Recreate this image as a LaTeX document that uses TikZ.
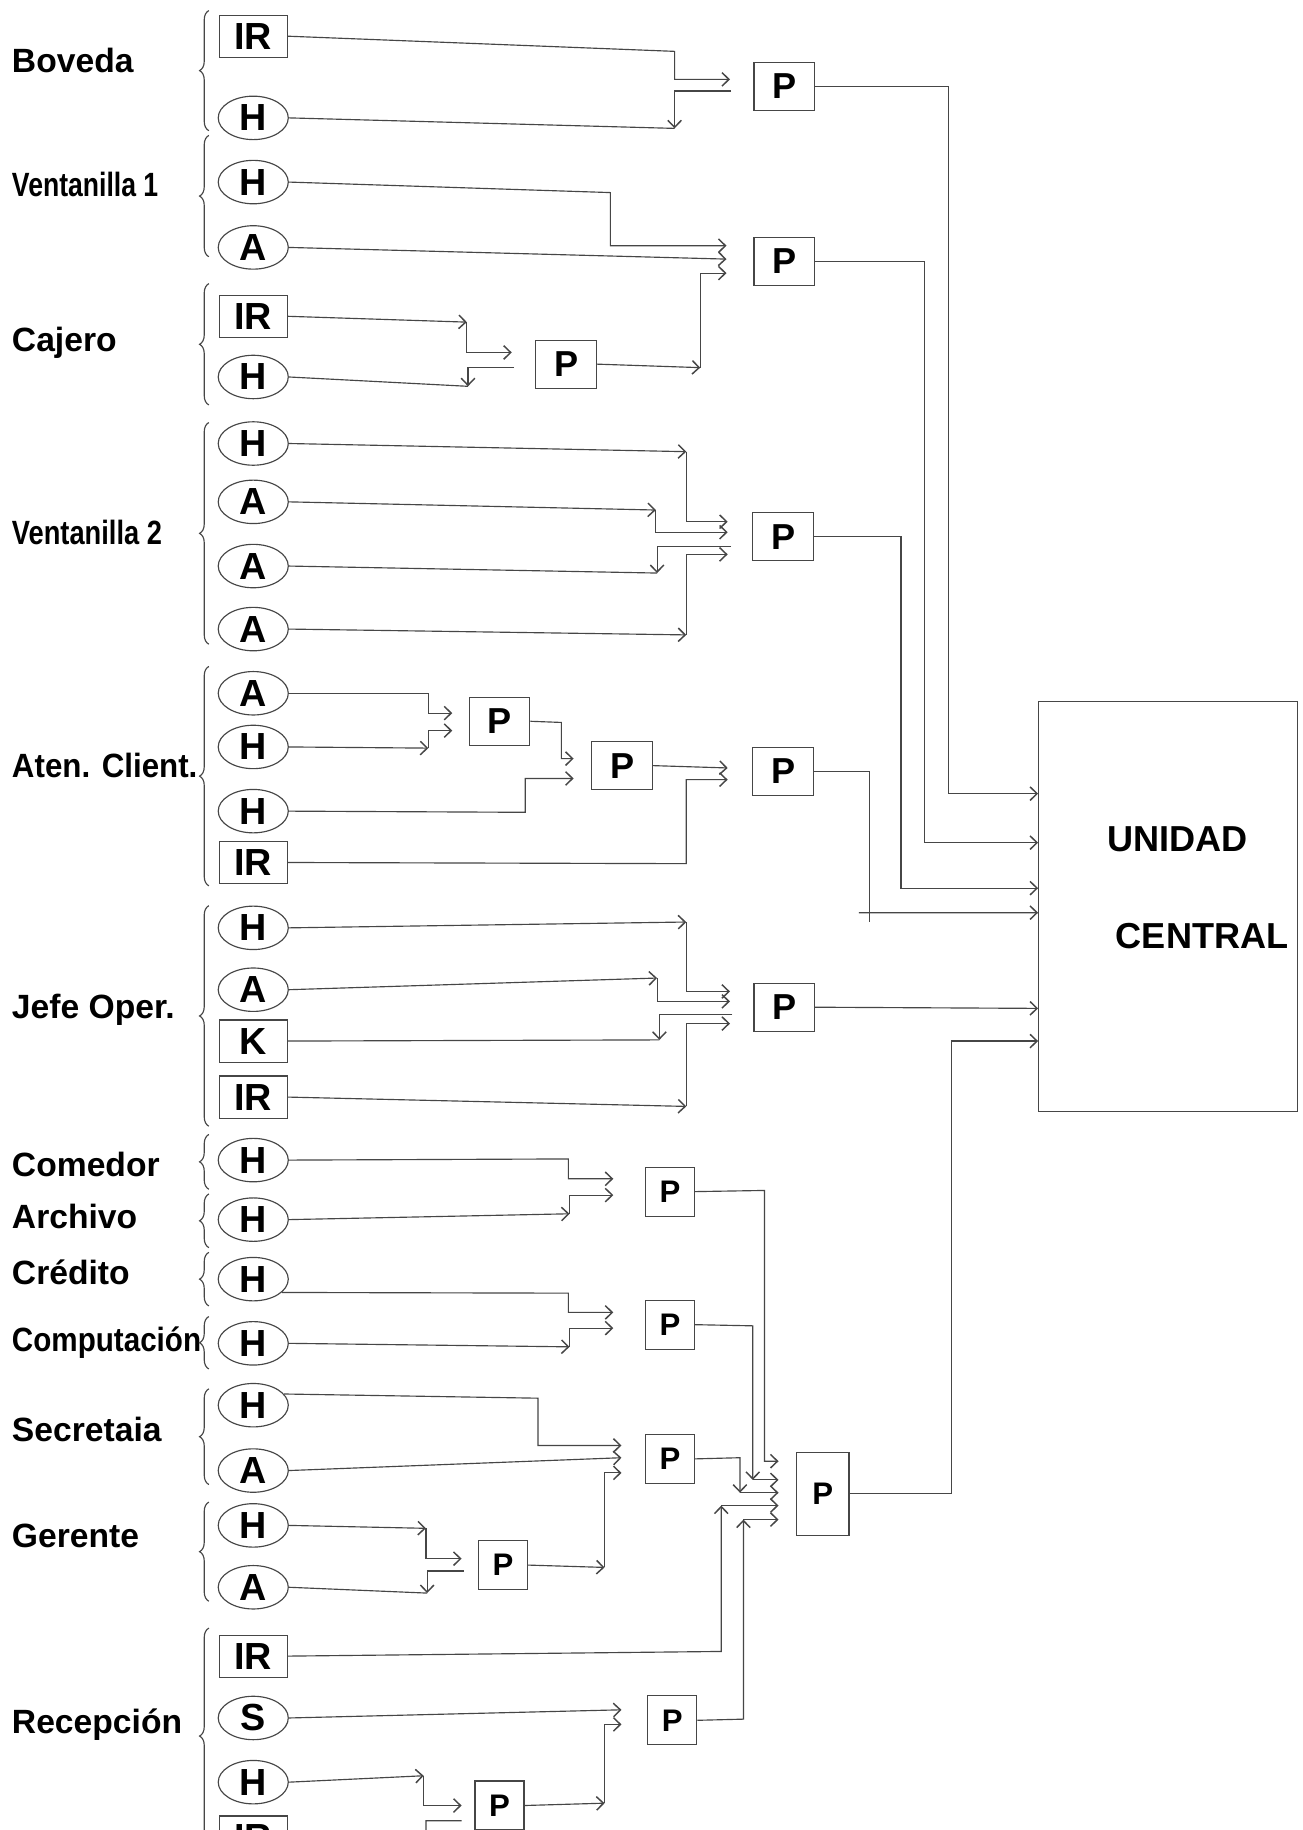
\documentclass[tikz,border=0pt]{standalone}
\usepackage{fontspec}
\usepackage{graphicx}
\setmainfont{Liberation Sans}
\usetikzlibrary{positioning,calc,arrows.meta,shapes.geometric,decorations.pathreplacing}
\definecolor{trazo}{RGB}{70,70,70}
\tikzset{
  lin/.style={draw=trazo,line width=0.7pt},
  flecha/.style={lin,-{Straight Barb[length=1.5mm,width=2.9mm,line width=0.9pt]}},
  fte/.style={draw=trazo,line width=0.7pt,inner sep=0pt,font=\bfseries\fontsize{23}{23}\selectfont},
  caja/.style={fte,rectangle,minimum width=1.45cm,minimum height=0.9cm},
  ovalo/.style={fte,ellipse,minimum width=1.5cm,minimum height=0.93cm},
  proc/.style={fte,rectangle,minimum width=1.3cm,minimum height=1.03cm,font=\bfseries\fontsize{22}{22}\selectfont},
  procs/.style={proc,minimum width=1.05cm,minimum height=1.05cm,font=\bfseries\fontsize{19}{19}\selectfont},
  etq/.style={anchor=west,inner sep=0pt,text height=14.7pt,text depth=0pt,font=\bfseries\fontsize{20.5}{20.5}\selectfont},
  llave/.style={lin,decorate,decoration={brace,amplitude=0.2cm}},
}
\newcommand{\grupo}[5]{%
  \node[etq] (#1) at (10,#3) {#2};
  \draw[llave] (179,#5) -- (179,#4);
}

\begin{document}
\begin{tikzpicture}[x=0.025cm,y=-0.025cm]
\useasboundingbox (0,0) rectangle (1116,1568);
\fill[white] (0,0) rectangle (1116,1568);
\clip (0,0) rectangle (1116,1568);

% grupos
\grupo{tBov}{Boveda}{52}{9}{112}
\grupo{tVen1}{\scalebox{0.79}[1]{Ventanilla 1}}{158}{116}{220}
\grupo{tCaj}{Cajero}{291}{243}{347}
\grupo{tVen2}{\scalebox{0.81}[1]{Ventanilla 2}}{456}{362}{552}
\grupo{tAte}{\scalebox{0.93}[1]{Aten. Client.}}{656}{571}{759}
\grupo{tJef}{Jefe Oper.}{862}{776}{965}
\grupo{tCom}{Comedor}{998}{972}{1019}
\grupo{tArc}{Archivo}{1042}{1023}{1069}
\grupo{tCre}{Crédito}{1090}{1073}{1119}
\grupo{tCmp}{\scalebox{0.88}[1]{Computación}}{1148}{1128}{1173}
\grupo{tSec}{Secretaia}{1225}{1190}{1272}
\grupo{tGer}{Gerente}{1316}{1287}{1372}
\grupo{tRec}{Recepción}{1475}{1395}{1580}

% fuentes
\node[caja] (bovIR) at (217,31) {IR};
\node[ovalo] (bovH) at (217,101) {H};
\node[ovalo] (v1H) at (217,156) {H};
\node[ovalo] (v1A) at (217,212) {A};
\node[caja] (cajIR) at (217,271) {IR};
\node[ovalo] (cajH) at (217,323) {H};
\node[ovalo] (v2H) at (217,380) {H};
\node[ovalo] (v2A) at (217,430) {A};
\node[ovalo] (v2B) at (217,485) {A};
\node[ovalo] (v2C) at (217,539) {A};
\node[ovalo] (atA) at (217,594) {A};
\node[ovalo] (atH) at (217,640) {H};
\node[ovalo] (atI) at (217,695) {H};
\node[caja] (atIR) at (217,739) {IR};
\node[ovalo] (jH) at (217,795) {H};
\node[ovalo] (jA) at (217,848) {A};
\node[caja] (jK) at (217,892) {K};
\node[caja] (jIR) at (217,940) {IR};
\node[ovalo] (comH) at (217,994) {H};
\node[ovalo] (arcH) at (217,1045) {H};
\node[ovalo] (creH) at (217,1096) {H};
\node[ovalo] (cmpH) at (217,1151) {H};
\node[ovalo] (secH) at (217,1204) {H};
\node[ovalo] (secA) at (217,1260) {A};
\node[ovalo] (gerH) at (217,1307) {H};
\node[ovalo] (gerA) at (217,1360) {A};
\node[caja] (recIR) at (217,1419) {IR};
\node[ovalo] (recS) at (217,1472) {S};
\node[ovalo] (recH) at (217,1527) {H};
\node[caja] (recJ) at (217,1574) {IR};

% procesadores
\node[proc] (pBov) at (672,74) {P};
\node[proc] (pV1) at (672,224) {P};
\node[proc] (pCaj) at (485,312) {P};
\node[proc] (pV2) at (671,460) {P};
\node[proc] (pA1) at (428,618) {P};
\node[proc] (pA2) at (533,656) {P};
\node[proc] (pAt) at (671,661) {P};
\node[proc] (pJefe) at (672,863) {P};
\node[procs] (pCA) at (574,1021) {P};
\node[procs] (pCC) at (574,1135) {P};
\node[procs] (pSec) at (574,1250) {P};
\node[procs] (pGer) at (431,1341) {P};
\node[procs] (pRec) at (576,1474) {P};
\node[procs] (pR2) at (428,1547) {P};
\node[procs,minimum width=1.12cm,minimum height=1.78cm] (pFin) at (705,1280) {P};
\node[draw=trazo,line width=0.7pt,minimum width=5.55cm,minimum height=8.78cm] (uc) at (1001,776.5) {};
\node[font=\bfseries\fontsize{22}{22}\selectfont] (ucA) at (1009,719) {UNIDAD};
\node[font=\bfseries\fontsize{22}{22}\selectfont] (ucB) at (1030,802) {CENTRAL};

% Boveda
\draw[flecha] (bovIR.east) -- (578,44) |- ($(pBov.west)+(-20,-6)$);
\draw[flecha] ($(pBov.west)+(-19,4)$) -| (578,110) coordinate (kBov);
\draw[lin] (bovH.east) -- (kBov);
% Ventanilla 1
\draw[flecha] (v1H.east) -- (523,165) |- ($(pV1.west)+(-23,-13.5)$);
\draw[flecha] (v1A.east) -- ($(pV1.west)+(-23,-2)$);
% Cajero
\draw[flecha] (cajIR.east) -- (400,276) coordinate (kCaj1);
\draw[flecha] (kCaj1) |- ($(pCaj.west)+(-20,-10)$);
\draw[flecha] ($(pCaj.west)+(-18,3)$) -| (401,331) coordinate (kCaj2);
\draw[lin] (cajH.east) -- (kCaj2);
\draw[flecha] (pCaj.east) -- (600,315) coordinate (kCaj3);
\draw[flecha] (kCaj3) |- ($(pV1.west)+(-23,10)$);
% Ventanilla 2
\draw[flecha] (v2H.east) -- (588,387) coordinate (kV1);
\draw[flecha] (kV1) |- ($(pV2.west)+(-21,-13)$);
\draw[flecha] (v2A.east) -- (562,437) coordinate (kV2);
\draw[flecha] (kV2) |- ($(pV2.west)+(-21,-4)$);
\draw[flecha] ($(pV2.west)+(-18,8)$) -| (563,491) coordinate (kV3);
\draw[lin] (v2B.east) -- (kV3);
\draw[flecha] (v2C.east) -- (588,544) coordinate (kV4);
\draw[flecha] (kV4) |- ($(pV2.west)+(-21,15)$);
% Aten. Client.
\draw[flecha] (atA.east) -- (367,594) |- ($(pA1.west)+(-14,-7)$);
\draw[flecha] (atH.east) -- (367,641) coordinate (kAt);
\draw[flecha] (kAt) |- ($(pA1.west)+(-14,8)$);
\draw[flecha] (pA1.east) -- (481,619) |- ($(pA2.west)+(-15,-6)$);
\draw[flecha] (atI.east) -- (450,696) |- ($(pA2.west)+(-15,11)$);
\draw[flecha] (pA2.east) -- ($(pAt.west)+(-21,-3)$);
\draw[flecha] (atIR.east) -- (588,740) |- ($(pAt.west)+(-21,7)$);
% Jefe Oper.
\draw[flecha] (jH.east) -- (588,790) coordinate (kJ1);
\draw[flecha] (kJ1) |- ($(pJefe.west)+(-20,-13.5)$);
\draw[flecha] (jA.east) -- (563,838) coordinate (kJ2);
\draw[flecha] (kJ2) |- ($(pJefe.west)+(-20,-5)$);
\draw[flecha] ($(pJefe.west)+(-18,6)$) -| (565,891) coordinate (kJ3);
\draw[lin] (jK.east) -- (kJ3);
\draw[flecha] (jIR.east) -- (588,948) coordinate (kJ4);
\draw[flecha] (kJ4) |- ($(pJefe.west)+(-20,14)$);

% hacia la unidad central
\draw[flecha] (pBov.east) -- (813,74) |- ($(uc.west)+(0,-96.5)$);
\draw[flecha] (pV1.east) -- (792,224) |- ($(uc.west)+(0,-54.5)$);
\draw[flecha] (pV2.east) -- (772,460) |- ($(uc.west)+(0,-15.5)$);
\draw[lin] (pAt.east) -- (745,661) -- (745,790);
\draw[flecha] (736,782) coordinate (kU) -- ($(uc.west)+(0,5.5)$);
\draw[flecha] (pJefe.east) -- ($(uc.west)+(0,87.5)$);
\draw[flecha] (pFin.east) -- (815,1280) |- ($(uc.west)+(0,115.5)$);

% Comedor, Archivo, Credito, Computacion
\draw[flecha] (comH.east) -- (487,993) |- ($(pCA.west)+(-27,-11)$);
\draw[flecha] (arcH.east) -- (488,1040) coordinate (kC1);
\draw[flecha] (kC1) |- ($(pCA.west)+(-27,3)$);
\draw[flecha] (creH.-25) -- (487,1108) |- ($(pCC.west)+(-27,-10.5)$);
\draw[flecha] (cmpH.east) -- (488,1154) coordinate (kC2);
\draw[flecha] (kC2) |- ($(pCC.west)+(-27,3)$);
% Secretaia, Gerente
\draw[flecha] (secH.20) -- (461,1198) |- ($(pSec.west)+(-20,-11.5)$);
\draw[flecha] (secA.east) -- ($(pSec.west)+(-20,-1)$);
\draw[flecha] (pGer.east) -- (518,1343) coordinate (kS1);
\draw[flecha] (kS1) |- ($(pSec.west)+(-20,12)$);
\draw[flecha] (gerH.east) -- (365,1309.5) coordinate (kG1);
\draw[flecha] (kG1) |- ($(pGer.west)+(-14,-5.5)$);
\draw[flecha] ($(pGer.west)+(-12,5)$) -| (366,1365) coordinate (kG2);
\draw[lin] (gerA.east) -- (kG2);
% Recepcion
\draw[flecha] (recS.east) -- ($(pRec.west)+(-22,-9)$);
\draw[flecha] (recH.east) -- (363,1521.5) coordinate (kR1);
\draw[flecha] (kR1) |- ($(pR2.west)+(-11,0)$);
\draw[lin] (recJ.east) -- (365,1585) |- ($(pR2.west)+(-11,13)$);
\draw[flecha] (pR2.east) -- (518,1545) coordinate (kR2);
\draw[flecha] (kR2) |- ($(pRec.west)+(-22,3.5)$);

% entradas del ultimo P
\draw[flecha] (pCA.east) -- (655,1020) |- ($(pFin.west)+(-15,-28)$);
\draw[flecha] (pCC.east) -- (645,1136) -- (645,1268) coordinate (kF1);
\draw[flecha] (kF1) -- ($(pFin.west)+(-15,-12)$);
\draw[flecha] (pSec.east) -- (634,1249) -- (634,1279) coordinate (kF2);
\draw[flecha] (kF2) -- ($(pFin.west)+(-15,-1)$);
\draw[flecha] (recIR.east) -- (618,1415) -- (618,1290) coordinate (kF3);
\draw[flecha] (kF3) -- ($(pFin.west)+(-15,10)$);
\draw[flecha] (pRec.east) -- (637,1473) -- (637,1302) coordinate (kF4);
\draw[flecha] (kF4) -- ($(pFin.west)+(-15,22)$);
\end{tikzpicture}
\end{document}
